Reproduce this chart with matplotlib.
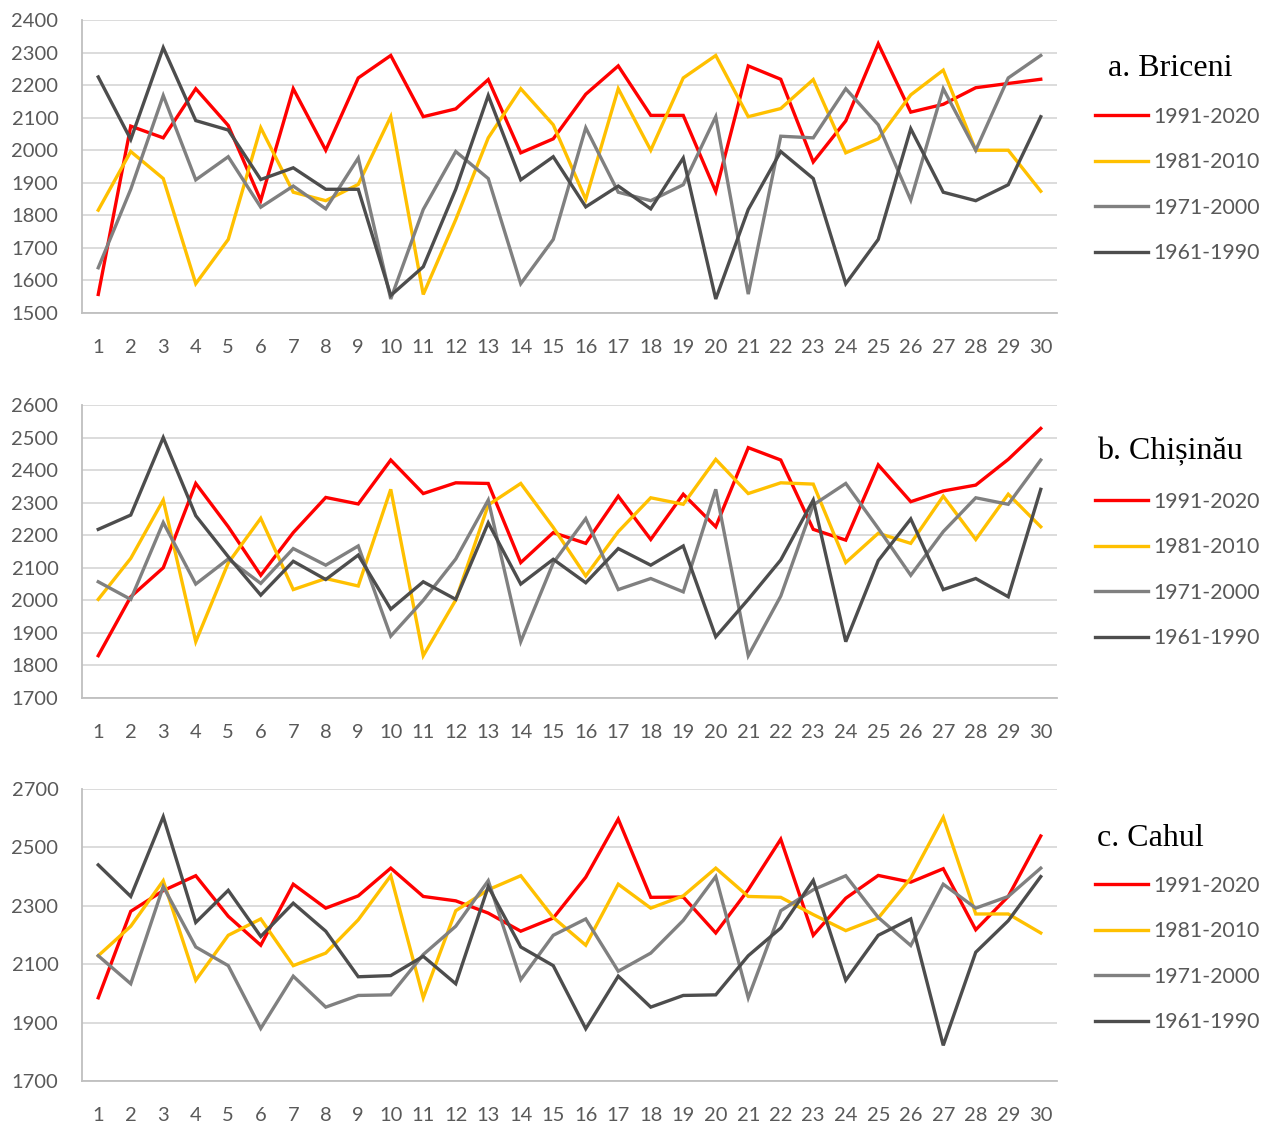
import numpy as np
import matplotlib
matplotlib.use('Agg')
import matplotlib.pyplot as plt

years = list(range(1, 31))
periods = ["1991-2020", "1981-2010", "1971-2000", "1961-1990"]
colors = ["#FF0000", "#FFC000", "#808080", "#4D4D4D"]

# a. Briceni
bri_1991 = [1557, 2074, 2038, 2189, 2076, 1846, 2189, 2000, 2222, 2291,
            2103, 2127, 2217, 1992, 2035, 2172, 2259, 2107, 2107, 1873,
            2259, 2218, 1964, 2090, 2327, 2117, 2141, 2192, 2205, 2218]
bri_1981 = [1816, 1996, 1913, 1590, 1726, 2069, 1871, 1845, 1895, 2103,
            1557, 1787, 2038, 2189, 2078, 1849, 2189, 2000, 2222, 2291,
            2103, 2128, 2217, 1992, 2035, 2170, 2246, 2000, 2000, 1874]
bri_1971 = [1639, 1880, 2168, 1909, 1980, 1825, 1890, 1820, 1976, 1543,
            1818, 1996, 1913, 1590, 1726, 2069, 1871, 1845, 1894, 2103,
            1558, 2043, 2038, 2189, 2078, 1847, 2189, 2000, 2222, 2291]
bri_1961 = [2225, 2033, 2315, 2091, 2062, 1910, 1946, 1880, 1880, 1554,
            1642, 1880, 2168, 1909, 1980, 1826, 1890, 1820, 1976, 1543,
            1818, 1996, 1913, 1590, 1726, 2066, 1871, 1845, 1894, 2103]

# b. Chisinau
chi_1991 = [1830, 2011, 2100, 2359, 2226, 2077, 2208, 2316, 2296, 2431,
            2328, 2361, 2359, 2116, 2208, 2175, 2320, 2187, 2326, 2226,
            2469, 2431, 2218, 2185, 2416, 2303, 2336, 2354, 2433, 2528]
chi_1981 = [2003, 2129, 2308, 1873, 2115, 2252, 2033, 2067, 2044, 2341,
            1830, 2001, 2293, 2359, 2224, 2075, 2211, 2315, 2295, 2433,
            2328, 2361, 2357, 2116, 2206, 2175, 2320, 2187, 2326, 2226]
chi_1971 = [2057, 2003, 2239, 2050, 2127, 2052, 2159, 2108, 2167, 1890,
            2000, 2127, 2308, 1873, 2115, 2251, 2033, 2067, 2026, 2341,
            1830, 2013, 2293, 2359, 2221, 2077, 2211, 2315, 2295, 2431]
chi_1961 = [2218, 2262, 2500, 2260, 2134, 2016, 2120, 2064, 2139, 1973,
            2057, 2003, 2238, 2050, 2126, 2054, 2159, 2108, 2167, 1888,
            2003, 2124, 2308, 1873, 2122, 2250, 2033, 2067, 2011, 2341]

# c. Cahul
cah_1991 = [1985, 2281, 2352, 2403, 2264, 2165, 2374, 2292, 2334, 2429,
            2332, 2317, 2275, 2213, 2258, 2398, 2597, 2329, 2330, 2207,
            2355, 2528, 2199, 2326, 2404, 2381, 2427, 2218, 2332, 2539]
cah_1981 = [2129, 2230, 2386, 2045, 2199, 2255, 2095, 2138, 2252, 2403,
            1985, 2283, 2355, 2403, 2260, 2165, 2374, 2292, 2334, 2429,
            2332, 2329, 2270, 2215, 2258, 2395, 2603, 2272, 2272, 2207]
cah_1971 = [2129, 2033, 2366, 2159, 2095, 1880, 2059, 1953, 1993, 1995,
            2133, 2230, 2386, 2047, 2199, 2255, 2076, 2138, 2250, 2400,
            1985, 2283, 2355, 2403, 2260, 2164, 2374, 2292, 2332, 2429]
cah_1961 = [2440, 2332, 2605, 2243, 2353, 2195, 2309, 2213, 2057, 2061,
            2127, 2033, 2366, 2159, 2095, 1879, 2059, 1953, 1993, 1995,
            2129, 2224, 2387, 2045, 2199, 2255, 1822, 2141, 2249, 2400]

panels = [
    ("a. Briceni", [bri_1991, bri_1981, bri_1971, bri_1961], (1500, 2400), 100),
    ("b. Chișinău", [chi_1991, chi_1981, chi_1971, chi_1961], (1700, 2600), 100),
    ("c. Cahul", [cah_1991, cah_1981, cah_1971, cah_1961], (1700, 2700), 200),
]

W, H = 1272, 1124
fig = plt.figure(figsize=(W / 100, H / 100), dpi=100)
plt.rcParams['font.family'] = ['Lato', 'DejaVu Sans']

# pixel positions: (top, bottom) of each plot area, title pos, legend center y
boxes = [(20, 313), (405, 698), (789, 1081)]
title_pos = [(1108, 68), (1097, 452), (1097, 838)]
legend_y = [185, 570, 954]
left, right = 82, 1057

for i, (name, series, ylim, step) in enumerate(panels):
    top, bot = boxes[i]
    ax = fig.add_axes([left / W, 1 - bot / H, (right - left) / W, (bot - top) / H])
    handles = []
    for vals, lab, c in zip(series, periods, colors):
        h, = ax.plot(years, vals, color=c, lw=2.4, label=lab, solid_joinstyle='miter')
        handles.append(h)
    ax.set_xlim(0.5, 30.5)
    ax.set_ylim(*ylim)
    ax.set_xticks(years)
    ax.set_yticks(np.arange(ylim[0], ylim[1] + 1, step))
    ax.grid(axis='y', color='#D9D9D9', lw=1.3)
    ax.set_axisbelow(True)
    for s in ['top', 'right']:
        ax.spines[s].set_visible(False)
    for s in ['left', 'bottom']:
        ax.spines[s].set_color('#BFBFBF')
        ax.spines[s].set_linewidth(1.3)
    ax.tick_params(axis='y', length=0, pad=17, labelsize=14.5, labelcolor='#595959')
    ax.tick_params(axis='x', length=0, pad=19, labelsize=14.5, labelcolor='#595959')

    tx, ty = title_pos[i]
    fig.text(tx / W, 1 - ty / H, name, family='Liberation Serif', fontsize=23,
             ha='left', va='center', color='black')
    ax.legend(handles=handles, loc='center left',
              bbox_to_anchor=(1095 / W, 1 - legend_y[i] / H),
              bbox_transform=fig.transFigure, frameon=False,
              fontsize=15.3, labelcolor='#595959', handlelength=2.5,
              handletextpad=0.25, labelspacing=1.2, borderpad=0, borderaxespad=0)

fig.savefig("out.png", dpi=100)
